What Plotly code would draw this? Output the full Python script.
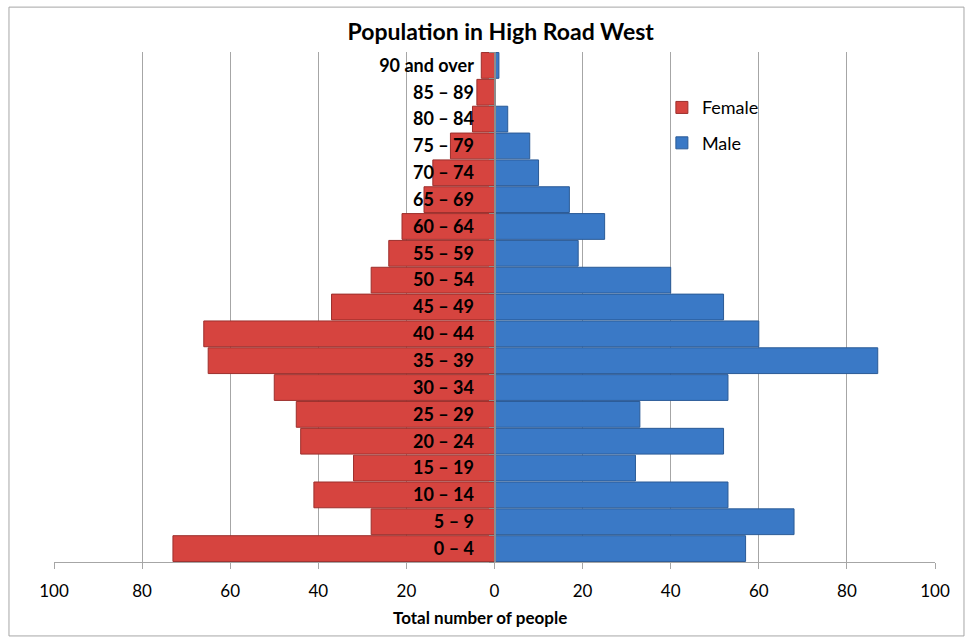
import plotly.graph_objects as go

# Age bands, youngest first (bottom of the pyramid)
age_groups = [
    "0 – 4", "5 – 9", "10 – 14", "15 – 19", "20 – 24", "25 – 29", "30 – 34",
    "35 – 39", "40 – 44", "45 – 49", "50 – 54", "55 – 59", "60 – 64",
    "65 – 69", "70 – 74", "75 – 79", "80 – 84", "85 – 89", "90 and over",
]
female = [73, 28, 41, 32, 44, 45, 50, 65, 66, 37, 28, 24, 21, 16, 14, 10, 5, 4, 3]
male = [57, 68, 53, 32, 52, 33, 53, 87, 60, 52, 40, 19, 25, 17, 10, 8, 3, 0, 1]

tick_values = [-100, -80, -60, -40, -20, 0, 20, 40, 60, 80, 100]
tick_text = [str(abs(v)) for v in tick_values]

FONT = "Lato"

fig = go.Figure()
fig.add_trace(go.Bar(
    y=age_groups, x=[-v for v in female], orientation="h", name="Female",
    legendgroup="f",
    marker=dict(color="#D6443F", line=dict(color="#9C2F2C", width=1)),
    customdata=female, hovertemplate="%{y}: %{customdata}<extra>Female</extra>",
))
fig.add_trace(go.Bar(
    y=age_groups, x=male, orientation="h", name="Male",
    legendgroup="m",
    marker=dict(color="#3A79C6", line=dict(color="#2A5A96", width=1)),
    hovertemplate="%{y}: %{x}<extra>Male</extra>",
))

fig.update_layout(
    width=967, height=639,
    margin=dict(l=54, r=32, t=52, b=77),
    paper_bgcolor="white", plot_bgcolor="white",
    barmode="relative", bargap=0.04,
    font=dict(family=FONT, size=16, color="black"),
    title=dict(text="<b>Population in High Road West</b>", xref="paper", x=0.507,
               xanchor="center", y=0.95, yanchor="middle",
               font=dict(family=FONT, size=23, color="black")),
    legend=dict(x=0.69, y=0.927, xanchor="left", yanchor="top",
                traceorder="grouped", tracegroupgap=9, itemwidth=30,
                font=dict(family=FONT, size=18, color="black"),
                bgcolor="rgba(0,0,0,0)"),
    xaxis=dict(
        range=[-100, 100], tickvals=tick_values, ticktext=tick_text,
        showgrid=True, gridcolor="#A6A6A6", gridwidth=1, zeroline=False,
        showline=True, linecolor="#A6A6A6", linewidth=1,
        ticks="outside", ticklen=6, tickcolor="#A6A6A6",
        ticklabelstandoff=8,
        tickfont=dict(family=FONT, size=17, color="black"),
    ),
    yaxis=dict(
        anchor="free", position=0.5, side="left",
        categoryorder="array", categoryarray=age_groups,
        showline=True, linecolor="#8C8C8C", linewidth=2,
        ticks="outside", ticklen=5, tickcolor="#8C8C8C", tickson="boundaries",
        ticklabelstandoff=16, showgrid=False, zeroline=False,
        tickfont=dict(family=FONT, size=18, color="black", weight="bold"),
    ),
    annotations=[dict(text="<b>Total number of people</b>", xref="paper", yref="paper",
                      x=0.4835, y=-0.108, xanchor="center", yanchor="middle",
                      showarrow=False, font=dict(family=FONT, size=17, color="black"))],
    shapes=[dict(type="rect", xref="paper", yref="paper",
                 x0=-0.0511, x1=1.0329, y0=-0.145, y1=1.088,
                 line=dict(color="#A6A6A6", width=1), fillcolor="rgba(0,0,0,0)",
                 layer="below")],
)

fig.write_html("out.html")
